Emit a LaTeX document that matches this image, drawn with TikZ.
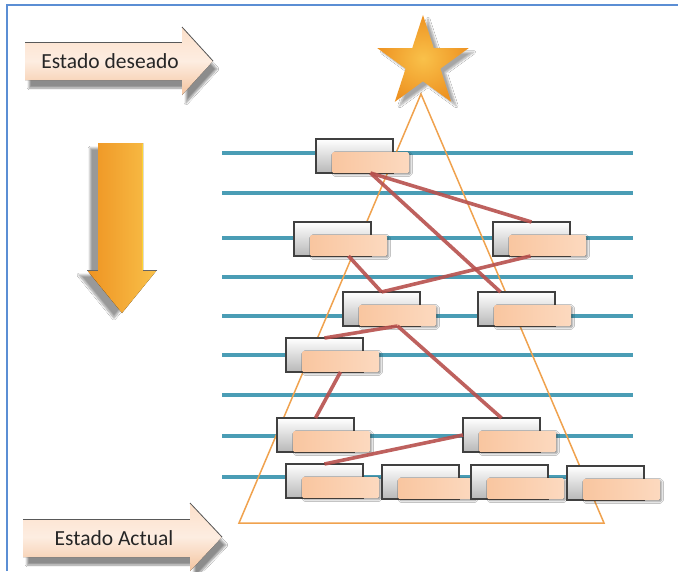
\documentclass[tikz,border=0pt]{standalone}
\usepackage{fontspec}
\setmainfont{Carlito}
\usetikzlibrary{shapes.geometric,shadows.blur}

\definecolor{frameblue}{HTML}{5B8ED4}
\definecolor{rowteal}{HTML}{4A9DB5}
\definecolor{treeorange}{HTML}{F0A24E}
\definecolor{linkred}{HTML}{B8504D}
\definecolor{peachA}{HTML}{F9C6A0}
\definecolor{peachB}{HTML}{FCD9BF}
\definecolor{starA}{HTML}{F9C14A}
\definecolor{starB}{HTML}{EE9322}
\definecolor{bandTop}{HTML}{FCE0CA}
\definecolor{bandMid}{HTML}{FDEDE1}
\definecolor{bandBot}{HTML}{F4C49F}

\tikzset{
  slot/.style={draw=black!75, line width=1.1pt, top color=white, bottom color=black!28,
    minimum width=77pt, minimum height=34pt, inner sep=0pt, outer sep=0pt, anchor=north west},
  tag/.style={rounded corners=1.5pt, left color=peachA, right color=peachB,
    minimum width=77pt, minimum height=21pt, inner sep=0pt, outer sep=0pt, anchor=north west,
    blur shadow={shadow xshift=1.5pt, shadow yshift=-1.5pt, shadow opacity=45, shadow blur steps=4}},
  link/.style={draw=linkred, line width=3.6pt, opacity=.9},
  row/.style={draw=rowteal, line width=3.2pt},
  arrowtxt/.style={font=\fontsize{21.5}{25}\selectfont, text=black!85, inner sep=0pt},
  band/.style={top color=bandTop, bottom color=bandBot, middle color=bandMid,
    blur shadow={shadow xshift=4pt, shadow yshift=-8pt, shadow opacity=45, shadow blur steps=8}},
}

% grey slot with its peach tag
\newcommand\slotpair[3]{%
  \node[slot] (b#1) at (#2,#3) {};
  \node[tag] (p#1) at ([xshift=16pt,yshift=-13pt]b#1.north west) {};}

\begin{document}
\begin{tikzpicture}[x=1pt,y=-1pt]
\useasboundingbox (0,0) rectangle (678,571);
\fill[white] (0,0) rectangle (678,571);

% frame
\draw[frameblue, line width=2.5pt] (7,571) -- (7,5) -- (678,5);

% levels
\foreach \yy in {153,193,238,277,316,355,395,436,477}
  \draw[row] (222,\yy) -- (633,\yy);

% tree outline
\coordinate (apex) at (421,94);
\coordinate (baseL) at (239,523);
\coordinate (baseR) at (604,523);
\draw[treeorange, line width=1.5pt, line join=miter] (apex) -- (baseR) -- (baseL) -- cycle;

% star
\node[star, star points=5, star point ratio=2.618, minimum size=96pt, inner sep=0pt,
      shading=radial, inner color=starA, outer color=starB,
      blur shadow={shadow xshift=5pt, shadow yshift=-4pt, shadow opacity=35, shadow blur steps=6}]
      (topstar) at (423,63) {};

% slots
\slotpair{1}{316}{139}
\slotpair{2}{294}{222}
\slotpair{3}{493}{222}
\slotpair{4}{343}{292}
\slotpair{5}{478}{292}
\slotpair{6}{286}{338}
\slotpair{7}{277}{418}
\slotpair{8}{463}{418}
\slotpair{9}{286}{464}
\slotpair{10}{382}{465}
\slotpair{11}{471}{465}
\slotpair{12}{567}{466}

% links between slots
\draw[link] (p1.south) -- (b3.north);
\draw[link] (p1.south) -- ([xshift=-16pt]b5.north);
\draw[link] (p2.south) -- (b4.north);
\draw[link] ([xshift=-17pt]p3.south) -- (b4.north);
\draw[link] (p4.south) -- (b6.north);
\draw[link] (p4.south) -- (b8.north);
\draw[link] (p6.south) -- (b7.north);
\draw[link] (b8.west) -- (b9.north);

% direction arrow
\fill[left color=starB, right color=starA,
      blur shadow={shadow xshift=-8pt, shadow yshift=-5pt, shadow opacity=40, shadow blur steps=8}]
  (98,143) -- (143,143) -- (143,270) -- (157,270) -- (122,313) -- (87,270) -- (98,270) -- cycle;
\draw[starA!70!yellow, line width=1.5pt] (142.5,144) -- (142.5,270);
\draw[black!60, line width=0.8pt] (87,270) -- (98,270);
\draw[black!60, line width=0.8pt] (143,270) -- (157,270);

% state arrows
\fill[band] (25,42) -- (182,42) -- (182,27) -- (213,61) -- (182,95) -- (182,80) -- (25,80) -- cycle;
\draw[black!65, line width=0.8pt] (25,42) -- (182,42);
\draw[black!65, line width=0.8pt] (182,27) -- (213,61);
\node[arrowtxt] (deseado) at (110,61) {Estado deseado};

\fill[band] (23,519) -- (190,519) -- (190,503) -- (222,537) -- (190,571) -- (190,557) -- (23,557) -- cycle;
\draw[black!65, line width=0.8pt] (23,519) -- (190,519);
\draw[black!65, line width=0.8pt] (190,503) -- (222,537);
\node[arrowtxt] (actual) at (114,538) {Estado Actual};
\end{tikzpicture}
\end{document}
